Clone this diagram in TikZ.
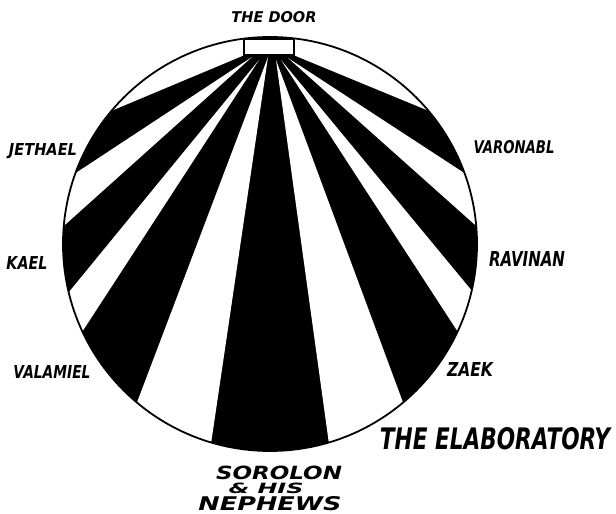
\documentclass[tikz,border=0pt]{standalone}
\usepackage{fontspec}
\usepackage{graphicx}
\newfontfamily\handfont{DejaVu Sans}
\usetikzlibrary{calc}
\begin{document}
\begin{tikzpicture}[x=1pt,y=1pt,
  lbl/.style={inner sep=0pt, font=\handfont\bfseries\itshape},
  rim/.style={draw=black, line width=1.8pt},
  doorbox/.style={draw=black, fill=white, line width=1.6pt, minimum width=50pt, minimum height=16pt, inner sep=0pt},
  lightray/.style={fill=white},
  darkray/.style={fill=black}
]
\useasboundingbox (0,0) rectangle (616,514);
\coordinate (c) at (270,270);
\def\R{207}
% dark body of the rays
\fill[darkray] (245,459) -- ($(c)+(140:\R)$) arc[start angle=140,end angle=400,radius=\R] -- (293,459) -- cycle;
% light rays
\foreach \a/\b/\ax/\ay in {160/175/252/457, 193.5/205/259/454, 230/253.5/268/457, 286.5/310/276/454, 335/347/281/454, 365/380/288/456} {
  \fill[lightray] (\ax,\ay) -- ($(c)+(\a:\R)$) arc[start angle=\a,end angle=\b,radius=\R] -- cycle;
}
\draw[rim] (c) circle[radius=\R];
\node[doorbox] (door) at (269,467) {};
% labels
\node[lbl] (thedoor) at (274,497) {\resizebox{85pt}{11pt}{THE DOOR}};
\node[lbl] (jethael) at (43,363) {\resizebox{68pt}{12pt}{JETHAEL}};
\node[lbl] (kael) at (27,251) {\resizebox{41pt}{13pt}{KAEL}};
\node[lbl] (valamiel) at (52,142) {\resizebox{77pt}{13pt}{VALAMIEL}};
\node[lbl] (varonabl) at (514,367) {\resizebox{81pt}{13pt}{VARONABL}};
\node[lbl] (ravinan) at (527,255) {\resizebox{76pt}{15pt}{RAVINAN}};
\node[lbl] (zaek) at (470,144) {\resizebox{46pt}{14pt}{ZAEK}};
\node[lbl] (elab) at (495,75) {\resizebox{230pt}{22pt}{THE ELABORATORY}};
\node[lbl] (sorolon) at (279,41.5) {\resizebox{126pt}{13.5pt}{SOROLON}};
\node[lbl] (andhis) at (266,26) {\resizebox{75pt}{10.5pt}{\& HIS}};
\node[lbl] (nephews) at (270,10.5) {\resizebox{143pt}{14pt}{NEPHEWS}};
\end{tikzpicture}
\end{document}
